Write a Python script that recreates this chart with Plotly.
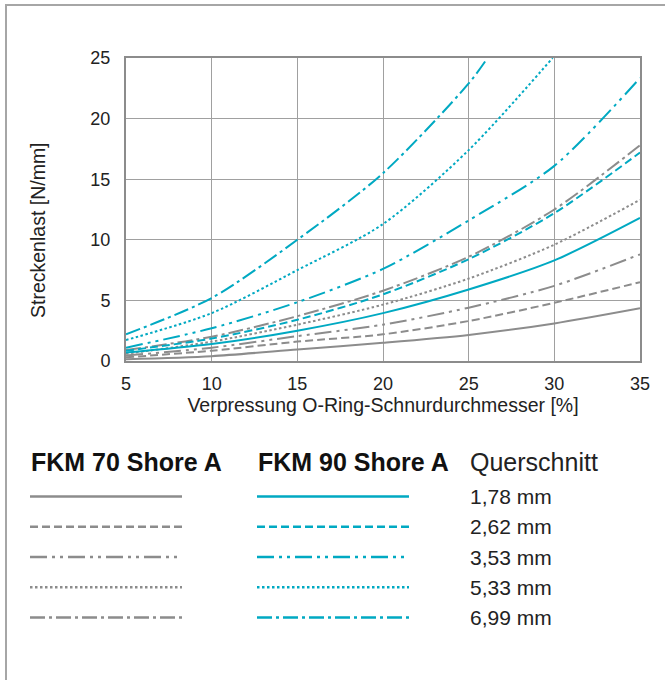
import plotly.graph_objects as go

# Verpressung [%] und Streckenlast [N/mm] je Querschnitt
x_full = [5, 10, 15, 20, 25, 30, 35]

fkm70_178 = [0.15, 0.4, 0.95, 1.5, 2.15, 3.1, 4.35]
fkm70_262 = [0.3, 0.85, 1.6, 2.2, 3.3, 4.8, 6.5]
fkm70_353 = [0.45, 1.1, 2.05, 3.0, 4.4, 6.2, 8.8]
fkm70_533 = [0.6, 1.6, 3.0, 4.65, 6.8, 9.6, 13.3]
fkm70_699 = [0.9, 2.0, 3.7, 5.8, 8.6, 12.5, 17.8]

fkm90_178 = [0.7, 1.4, 2.5, 3.95, 5.9, 8.3, 11.8]
fkm90_262 = [0.85, 1.85, 3.4, 5.5, 8.4, 12.2, 17.2]
fkm90_353 = [1.1, 2.7, 4.85, 7.6, 11.6, 16.1, 23.35]
x_90_533 = [5, 10, 15, 20, 25, 29.9]
fkm90_533 = [1.73, 3.95, 7.5, 11.3, 17.4, 25.0]
x_90_699 = [5, 10, 15, 20, 25, 26.1]
fkm90_699 = [2.2, 5.2, 10.0, 15.5, 22.9, 25.0]

labels = ["1,78 mm", "2,62 mm", "3,53 mm", "5,33 mm", "6,99 mm"]
x_ticks = [5, 10, 15, 20, 25, 30, 35]
y_ticks = [0, 5, 10, 15, 20, 25]

GRAY = "#8c8c8c"
TEAL = "#00a9c2"
FONT = "Liberation Sans, Arial"
dashes = ["solid", "8px,4px", "17px,5px,3px,5px,3px,5px", "2.5px,2.5px", "15px,4px,3px,4px"]

series70 = [(x_full, fkm70_178), (x_full, fkm70_262), (x_full, fkm70_353),
            (x_full, fkm70_533), (x_full, fkm70_699)]
series90 = [(x_full, fkm90_178), (x_full, fkm90_262), (x_full, fkm90_353),
            (x_90_533, fkm90_533), (x_90_699, fkm90_699)]

fig = go.Figure()
for (xs, ys), d, lab in zip(series70, dashes, labels):
    fig.add_trace(go.Scatter(x=xs, y=ys, mode="lines", name="FKM 70 " + lab,
                             line=dict(color=GRAY, width=2, dash=d, shape="spline", smoothing=0.8)))
for (xs, ys), d, lab in zip(series90, dashes, labels):
    fig.add_trace(go.Scatter(x=xs, y=ys, mode="lines", name="FKM 90 " + lab,
                             line=dict(color=TEAL, width=2, dash=d, shape="spline", smoothing=0.8)))

# plot area in pixels
L, R, T, B = 126, 640, 58, 361
W, H = R - L, B - T


def px(x):
    return (x - L) / W


def py(y):
    return (B - y) / H


shapes = [
    # outer frame: left and top edge
    dict(type="line", xref="paper", yref="paper", x0=px(6), x1=px(6), y0=py(5), y1=py(700),
         line=dict(color="#a6a6a6", width=2), layer="below"),
    dict(type="line", xref="paper", yref="paper", x0=px(5), x1=px(700), y0=py(5), y1=py(5),
         line=dict(color="#a6a6a6", width=2), layer="below"),
]

rows = [496.5, 526.8, 557.0, 587.3, 617.5]
for yy, d in zip(rows, dashes):
    shapes.append(dict(type="line", xref="paper", yref="paper", x0=px(30), x1=px(182),
                       y0=py(yy), y1=py(yy), line=dict(color=GRAY, width=2.5, dash=d)))
    shapes.append(dict(type="line", xref="paper", yref="paper", x0=px(257), x1=px(409),
                       y0=py(yy), y1=py(yy), line=dict(color=TEAL, width=2.5, dash=d)))

title_font = dict(family=FONT, size=19.5, color="#222222")
annotations = [
    dict(text="Streckenlast [N/mm]", x=px(38), y=py(230), xref="paper", yref="paper",
         xanchor="center", yanchor="middle", textangle=-90, showarrow=False, font=title_font),
    dict(text="<b>FKM 70 Shore A</b>", x=px(29), y=py(462), xref="paper", yref="paper",
         xanchor="left", yanchor="middle", showarrow=False,
         font=dict(family=FONT, size=25, color="#111111")),
    dict(text="<b>FKM 90 Shore A</b>", x=px(256), y=py(462), xref="paper", yref="paper",
         xanchor="left", yanchor="middle", showarrow=False,
         font=dict(family=FONT, size=25, color="#111111")),
    dict(text="Querschnitt", x=px(468), y=py(462), xref="paper", yref="paper",
         xanchor="left", yanchor="middle", showarrow=False,
         font=dict(family=FONT, size=25, color="#222222")),
]
for yy, lab in zip(rows, labels):
    annotations.append(dict(text=lab, x=px(468), y=py(yy), xref="paper", yref="paper",
                            xanchor="left", yanchor="middle", showarrow=False,
                            font=dict(family=FONT, size=21, color="#222222")))

axis_font = dict(family=FONT, size=18, color="#222222")
fig.update_layout(
    width=665, height=680,
    margin=dict(l=L, r=665 - R, t=T, b=680 - B, pad=0),
    paper_bgcolor="white", plot_bgcolor="white",
    showlegend=False,
    shapes=shapes, annotations=annotations,
    xaxis=dict(range=[5, 35], tickvals=x_ticks, ticks="", showgrid=True, gridcolor="#a0a0a0",
               gridwidth=1, zeroline=False, showline=True, linecolor="#8c8c8c", linewidth=2,
               mirror=True, tickfont=axis_font, ticklabelstandoff=5,
               title=dict(text="Verpressung O-Ring-Schnurdurchmesser [%]", standoff=6,
                          font=title_font)),
    yaxis=dict(range=[0, 25], tickvals=y_ticks, ticks="", showgrid=True, gridcolor="#a0a0a0",
               gridwidth=1, zeroline=False, showline=True, linecolor="#8c8c8c", linewidth=2,
               mirror=True, tickfont=axis_font, ticklabelstandoff=10),
)

fig.write_html("out.html")
